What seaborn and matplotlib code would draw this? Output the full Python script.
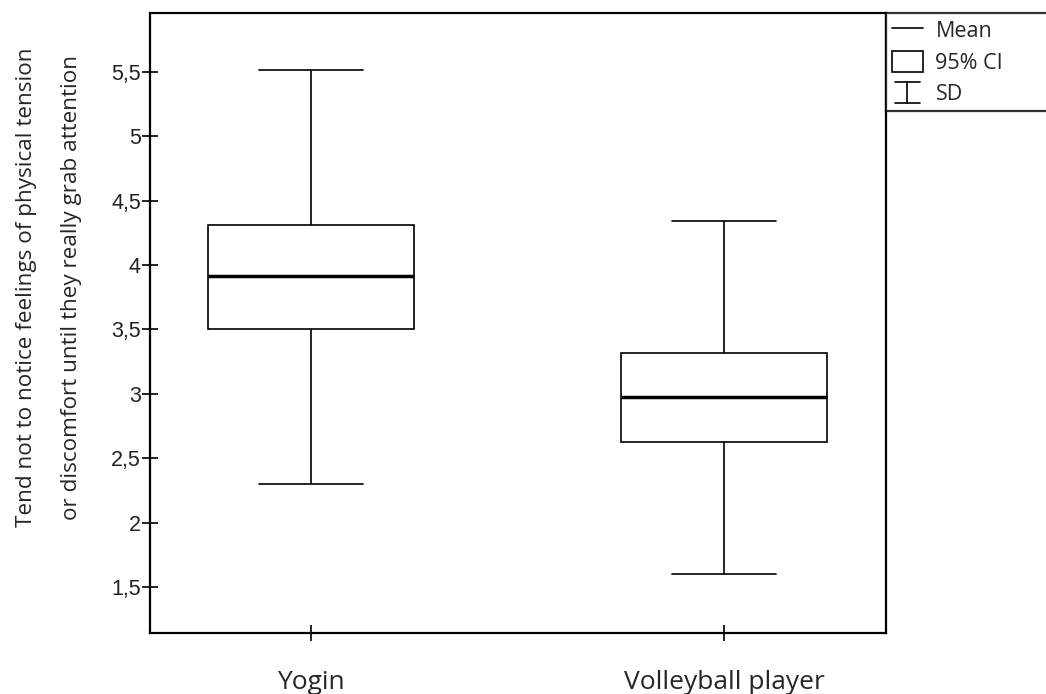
import numpy as np
import pandas as pd
import matplotlib
matplotlib.use("Agg")
import matplotlib.pyplot as plt
import seaborn as sns
from matplotlib.lines import Line2D
from matplotlib.patches import Patch
from matplotlib.legend_handler import HandlerBase
from matplotlib.ticker import FuncFormatter, MultipleLocator

# values: mean, 95% CI bounds, mean +/- SD
groups = ["Yogin", "Volleyball player"]
mean = [3.915, 2.975]
ci_low = [3.50, 2.625]
ci_high = [4.31, 3.32]
sd_low = [2.30, 1.60]
sd_high = [5.515, 4.34]

# five points per group -> seaborn quartiles = CI, median = mean, whiskers (0,100) = SD
rows = []
for g, lo, cl, m, ch, hi in zip(groups, sd_low, ci_low, mean, ci_high, sd_high):
    for v in (lo, cl, m, ch, hi):
        rows.append({"group": g, "value": v})
df = pd.DataFrame(rows)

sns.set_style("white")
plt.rcParams["font.family"] = ["Open Sans", "DejaVu Sans"]

fig = plt.figure(figsize=(10.46, 6.94), dpi=100)
ax = fig.add_axes([0.1434, 0.0879, 0.7036, 0.8934])

sns.boxplot(data=df, x="group", y="value", order=groups, whis=(0, 100), width=0.5,
            color="white", linecolor="black", linewidth=1.2, fliersize=0,
            medianprops=dict(linewidth=2.5, color="black"), ax=ax)

ax.set_xlim(-0.39, 1.392)
ax.set_ylim(1.143, 5.957)
ax.yaxis.set_major_locator(MultipleLocator(0.5))
ax.yaxis.set_major_formatter(FuncFormatter(lambda v, p: f"{v:g}".replace(".", ",")))

for s in ax.spines.values():
    s.set_linewidth(1.6)
    s.set_color("black")

ax.tick_params(axis="both", left=True, bottom=True, direction="inout", length=11,
               width=1.2, color="black")
ax.tick_params(axis="y", pad=1, labelsize=15.5)
ax.tick_params(axis="x", pad=21, labelsize=19)
for lab in ax.get_yticklabels():
    lab.set_fontfamily(["Liberation Sans", "DejaVu Sans"])
    lab.set_color("#222222")

ax.set_xlabel("")
ax.set_ylabel("Tend not to notice feelings of physical tension\nor discomfort until they really grab attention",
              fontsize=16.2, linespacing=2.5, va="center")
ax.yaxis.set_label_coords(-0.137, 0.558)


class SDHandler(HandlerBase):
    def create_artists(self, legend, orig_handle, xdescent, ydescent, width, height, fontsize, trans):
        x0 = -xdescent
        y0 = -ydescent
        cx = x0 + width / 2
        cw = width * 0.4
        lines = [
            Line2D([cx, cx], [y0, y0 + height]),
            Line2D([cx - cw, cx + cw], [y0, y0]),
            Line2D([cx - cw, cx + cw], [y0 + height, y0 + height]),
        ]
        for ln in lines:
            ln.set_color("black")
            ln.set_linewidth(1.2)
            ln.set_transform(trans)
        return lines


sd_proxy = Line2D([], [], color="black")
handles = [Line2D([], [], color="black", linewidth=1.2),
           Patch(facecolor="white", edgecolor="black", linewidth=1.2),
           sd_proxy]
leg = fig.legend(handles, ["Mean", "95% CI", "SD"], loc="upper left",
                 bbox_to_anchor=(0.847, 0.0, 0.2, 0.981), mode="expand",
                 fontsize=15.5, handlelength=1.4, handleheight=1.1, handletextpad=0.6,
                 labelspacing=0.4, borderpad=0.3, borderaxespad=0, fancybox=False,
                 frameon=True, handler_map={sd_proxy: SDHandler()})
leg.get_frame().set_edgecolor("black")
leg.get_frame().set_linewidth(1.6)

fig.savefig("out.png", dpi=100)
